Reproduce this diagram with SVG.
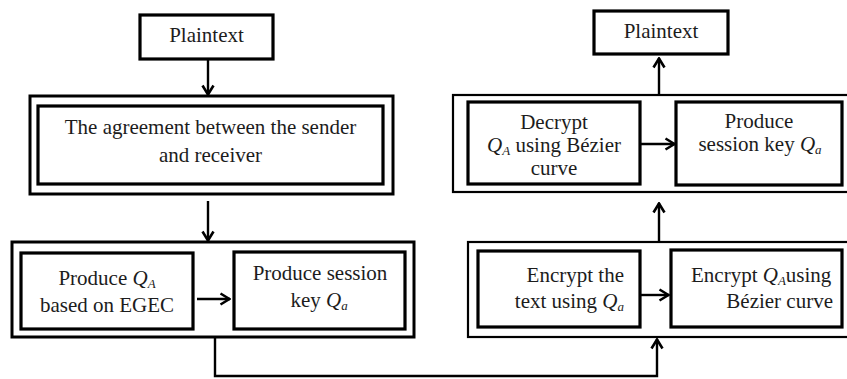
<svg xmlns="http://www.w3.org/2000/svg" width="847" height="379" viewBox="0 0 847 379">
  <defs>
    <style>
      .outer { fill: #fff; stroke: #000; stroke-width: 3; }
      .outer-thin { fill: #fff; stroke: #000; stroke-width: 2.2; }
      .box { fill: #fff; stroke: #000; stroke-width: 3.2; }
      .lbl { font-family: "Liberation Serif", "Times New Roman", serif; font-size: 21px; fill: #1c1c1c; }
      .m { font-style: italic; }
      .sub { font-style: italic; font-size: 13px; }
      .wire { fill: none; stroke: #000; stroke-width: 2.4; }
    </style>
    <marker id="chev" viewBox="0 0 12 14" refX="11" refY="7" markerWidth="12" markerHeight="14" markerUnits="userSpaceOnUse" orient="auto">
      <path d="M1.5,1.5 L10.5,7 L1.5,12.5" fill="none" stroke="#000" stroke-width="2.6" stroke-linejoin="miter"/>
    </marker>
  </defs>

  <!-- sender side -->
  <g id="plaintext-in">
    <rect class="box" x="140" y="15" width="133" height="44"/>
    <text class="lbl" x="206.5" y="42" text-anchor="middle">Plaintext</text>
  </g>

  <g id="agreement">
    <rect class="outer" x="30" y="96" width="363" height="98"/>
    <rect class="box" x="38" y="106" width="345" height="78"/>
    <text class="lbl" x="210.5" y="134" text-anchor="middle">The agreement between the sender</text>
    <text class="lbl" x="210.5" y="162" text-anchor="middle">and receiver</text>
  </g>

  <g id="key-generation">
    <rect class="outer" x="12" y="242" width="402" height="95"/>
  </g>

  <g id="produce-QA">
    <rect class="box" x="21" y="253" width="172" height="76"/>
    <text class="lbl" x="107" y="285" text-anchor="middle">Produce <tspan class="m">Q</tspan><tspan class="sub" dy="3">A</tspan></text>
    <text class="lbl" x="107" y="312" text-anchor="middle">based on EGEC</text>
  </g>

  <g id="produce-session-key">
    <rect class="box" x="234" y="252" width="171" height="77"/>
    <text class="lbl" x="320" y="280" text-anchor="middle">Produce session</text>
    <text class="lbl" x="319" y="307" text-anchor="middle">key <tspan class="m">Q</tspan><tspan class="sub" dy="3">a</tspan></text>
  </g>

  <!-- encryption stage -->
  <g id="encryption">
    <rect class="outer-thin" x="468" y="242" width="384" height="95"/>
  </g>

  <g id="encrypt-text">
    <rect class="box" x="478" y="251" width="162" height="76"/>
    <text class="lbl" x="624" y="282" text-anchor="end">Encrypt the</text>
    <text class="lbl" x="624" y="308" text-anchor="end">text using <tspan class="m">Q</tspan><tspan class="sub" dy="3">a</tspan></text>
  </g>

  <g id="encrypt-QA">
    <rect class="box" x="671" y="250" width="171" height="77"/>
    <text class="lbl" x="691" y="282">Encrypt <tspan class="m">Q</tspan><tspan class="sub" dy="3">A</tspan><tspan dy="-3">using</tspan></text>
    <text class="lbl" x="833" y="308" text-anchor="end">Bézier curve</text>
  </g>

  <!-- receiver side -->
  <g id="decryption">
    <rect class="outer-thin" x="453" y="95" width="399" height="97"/>
  </g>

  <g id="decrypt-QA">
    <rect class="box" x="468" y="102" width="172" height="82"/>
    <text class="lbl" x="554" y="129" text-anchor="middle">Decrypt</text>
    <text class="lbl" x="554" y="152" text-anchor="middle"><tspan class="m">Q</tspan><tspan class="sub" dy="3">A</tspan><tspan dy="-3"> using Bézier</tspan></text>
    <text class="lbl" x="554" y="175" text-anchor="middle">curve</text>
  </g>

  <g id="receiver-session-key">
    <rect class="box" x="676" y="102" width="166" height="83"/>
    <text class="lbl" x="759" y="128" text-anchor="middle">Produce</text>
    <text class="lbl" x="760" y="151" text-anchor="middle">session key <tspan class="m">Q</tspan><tspan class="sub" dy="3">a</tspan></text>
  </g>

  <g id="plaintext-out">
    <rect class="box" x="594" y="11" width="134" height="43"/>
    <text class="lbl" x="661" y="38" text-anchor="middle">Plaintext</text>
  </g>

  <!-- connectors -->
  <g id="connectors">
    <path class="wire" d="M208,60 L208,95" marker-end="url(#chev)"/>
    <path class="wire" d="M208,201 L208,241" marker-end="url(#chev)"/>
    <path class="wire" d="M197,299 L230,299" marker-end="url(#chev)"/>
    <path class="wire" d="M641,295 L669,295" marker-end="url(#chev)"/>
    <path class="wire" d="M215,338 L215,376 L657,376 L657,339" marker-end="url(#chev)"/>
    <path class="wire" d="M659,241 L659,203" marker-end="url(#chev)"/>
    <path class="wire" d="M640,144 L675,144" marker-end="url(#chev)"/>
    <path class="wire" d="M659,94 L659,58" marker-end="url(#chev)"/>
  </g>
</svg>
